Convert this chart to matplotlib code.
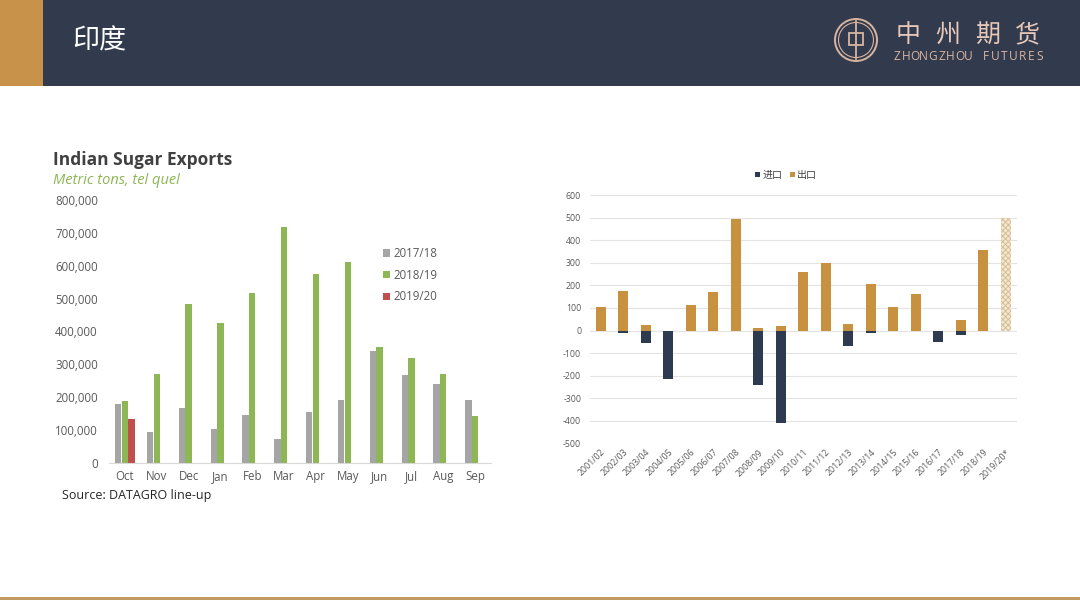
import matplotlib
matplotlib.use("Agg")
import matplotlib.pyplot as plt
import numpy as np
from matplotlib.patches import Rectangle, Circle

plt.rcParams['font.family'] = ['Open Sans', 'Noto Sans CJK SC', 'DejaVu Sans']
plt.rcParams['hatch.linewidth'] = 0.6

# ---------------- data: left chart ----------------
months = ["Oct", "Nov", "Dec", "Jan", "Feb", "Mar", "Apr", "May", "Jun", "Jul", "Aug", "Sep"]
s2017_18 = [178000, 93000, 168000, 102000, 146000, 72000, 154000, 191000, 340000, 269000, 239000, 191000]
s2018_19 = [189000, 272000, 483000, 426000, 518000, 717000, 576000, 612000, 353000, 318000, 271000, 143000]
s2019_20 = [135000, None, None, None, None, None, None, None, None, None, None, None]
left_series_names = ["2017/18", "2018/19", "2019/20"]
left_yticks = [0, 100000, 200000, 300000, 400000, 500000, 600000, 700000, 800000]

# ---------------- data: right chart ----------------
seasons = ["2001/02", "2002/03", "2003/04", "2004/05", "2005/06", "2006/07", "2007/08",
           "2008/09", "2009/10", "2010/11", "2011/12", "2012/13", "2013/14", "2014/15",
           "2015/16", "2016/17", "2017/18", "2018/19", "2019/20*"]
exports = [106, 173, 25, 0, 111, 170, 493, 13, 21, 258, 297, 31, 208, 106, 162, 0, 46, 357, 500]
imports = [0, -12, -56, -216, 0, 0, 0, -239, -410, 0, 0, -68, -9, 0, 0, -52, -19, 0, 0]
forecast_flags = [False] * 18 + [True]
right_names = ["进口", "出口"]
right_yticks = [-500, -400, -300, -200, -100, 0, 100, 200, 300, 400, 500, 600]

W, H = 1080, 607
fig = plt.figure(figsize=(W / 100, H / 100), dpi=100)
fig.patch.set_facecolor("white")

def fx(px):
    return px / W

def fy(py):
    return 1 - py / H

# ---------------- header / footer ----------------
bg = fig.add_axes([0, 0, 1, 1], zorder=-10)
bg.set_xlim(0, W)
bg.set_ylim(H, 0)
bg.axis("off")
bg.add_patch(Rectangle((0, 0), W, 86, facecolor="#313B4D", edgecolor="none"))
bg.add_patch(Rectangle((0, 0), 43, 86, facecolor="#C8924A", edgecolor="none"))
bg.add_patch(Rectangle((0, 596.5), W, 3.5, facecolor="#C49A64", edgecolor="none"))
bg.text(72, 41, "印度", color="white", fontsize=19.5, va="center", ha="left",
        family=["Noto Sans CJK SC"])
# logo
logo_c = "#D9B4A0"
bg.add_patch(Circle((856, 40), 21, facecolor="none", edgecolor=logo_c, lw=1.4))
bg.add_patch(Circle((856, 40), 17.5, facecolor="none", edgecolor=logo_c, lw=0.8))
bg.add_patch(Rectangle((849, 33), 14, 12, facecolor="none", edgecolor=logo_c, lw=1.3))
bg.plot([856, 856], [21, 59], color=logo_c, lw=1.3)
cn_chars = "中州期货"
cn_x = np.linspace(908, 1027, len(cn_chars))
for ch, cx in zip(cn_chars, cn_x):
    bg.text(cx, 35, ch, color="#E6C7B8", fontsize=18, ha="center", va="center",
            family=["Noto Sans CJK SC"])
en_text = "ZHONGZHOU FUTURES"
en_x = np.linspace(897, 1040, len(en_text))
for ch, cx in zip(en_text, en_x):
    bg.text(cx, 57, ch, color=logo_c, fontsize=8.6, ha="center", va="center")

# ---------------- left chart ----------------
axL = fig.add_axes([fx(109), fy(463), fx(382), fy(200) - fy(463)])
x = np.arange(len(months))
bw = 0.195
off = 0.21
gray, green, red = "#A5A5A5", "#8DB654", "#C0504D"
axL.bar(x - off, s2017_18, bw, color=gray, label=left_series_names[0])
axL.bar(x, s2018_19, bw, color=green, label=left_series_names[1])
r_x = [xi + off for xi, v in zip(x, s2019_20) if v is not None]
r_v = [v for v in s2019_20 if v is not None]
axL.bar(r_x, r_v, bw, color=red, label=left_series_names[2])
axL.set_xlim(-0.5, len(months) - 0.5)
axL.set_ylim(0, 800000)
axL.set_yticks(left_yticks)
axL.set_yticklabels([f"{v:,}" for v in left_yticks])
axL.set_xticks(x)
axL.set_xticklabels(months)
for s in ["top", "right", "left"]:
    axL.spines[s].set_visible(False)
axL.spines["bottom"].set_color("#D9D9D9")
axL.tick_params(axis="both", length=0, labelsize=8.3, colors="#595959")
axL.tick_params(axis="y", pad=8)
axL.tick_params(axis="x", pad=5)
axL.set_facecolor("none")
legL = axL.legend(loc="upper left", bbox_to_anchor=(0.69, 0.86), frameon=False,
                  fontsize=8.3, handlelength=0.6, handleheight=0.6, handletextpad=0.3,
                  labelspacing=0.75, labelcolor="#595959")
fig.text(fx(53), fy(160), "Indian Sugar Exports", fontsize=12.5, fontweight="bold",
         color="#404040", va="center", ha="left")
fig.text(fx(53), fy(180), "Metric tons, tel quel", fontsize=10.5, style="italic",
         color="#8DB654", va="center", ha="left")
fig.text(fx(62), fy(495), "Source: DATAGRO line-up", fontsize=9, color="#262626",
         va="center", ha="left")

# ---------------- right chart ----------------
axR = fig.add_axes([fx(589.5), fy(443.5), fx(427.5), fy(195) - fy(443.5)])
xr = np.arange(len(seasons))
gold, navy = "#C8913F", "#2E3A50"
bwr = 0.43
axR.bar(xr, imports, bwr, color=navy, label=right_names[0], zorder=3)
reg_x = [xi for xi, f in zip(xr, forecast_flags) if not f]
reg_v = [v for v, f in zip(exports, forecast_flags) if not f]
axR.bar(reg_x, reg_v, bwr, color=gold, label=right_names[1], zorder=3)
fc_x = [xi for xi, f in zip(xr, forecast_flags) if f]
fc_v = [v for v, f in zip(exports, forecast_flags) if f]
axR.bar(fc_x, fc_v, bwr, color="#F1E6D2", edgecolor="#D5BA8C", hatch="xxxxxx",
        lw=0, zorder=3)
axR.set_xlim(-0.5, len(seasons) - 0.5)
axR.set_ylim(-500, 600)
axR.set_yticks(right_yticks)
axR.set_yticklabels([str(v) for v in right_yticks])
axR.set_xticks(xr)
axR.set_xticklabels(seasons, rotation=45, ha="right", rotation_mode="anchor")
axR.grid(axis="y", color="#E3E3E3", lw=0.8, zorder=0)
for s in ["top", "right", "left", "bottom"]:
    axR.spines[s].set_visible(False)
axR.tick_params(axis="both", length=0, labelsize=6.3, colors="#595959")
axR.tick_params(axis="y", pad=6)
axR.tick_params(axis="x", pad=3)
axR.set_facecolor("none")
legR = axR.legend(loc="lower center", bbox_to_anchor=(0.46, 1.02), ncol=2, frameon=False,
                  fontsize=7.2, handlelength=0.5, handleheight=0.5, handletextpad=0.2,
                  columnspacing=0.8, labelcolor="#404040")

fig.savefig("out.png", dpi=100, facecolor="white")
